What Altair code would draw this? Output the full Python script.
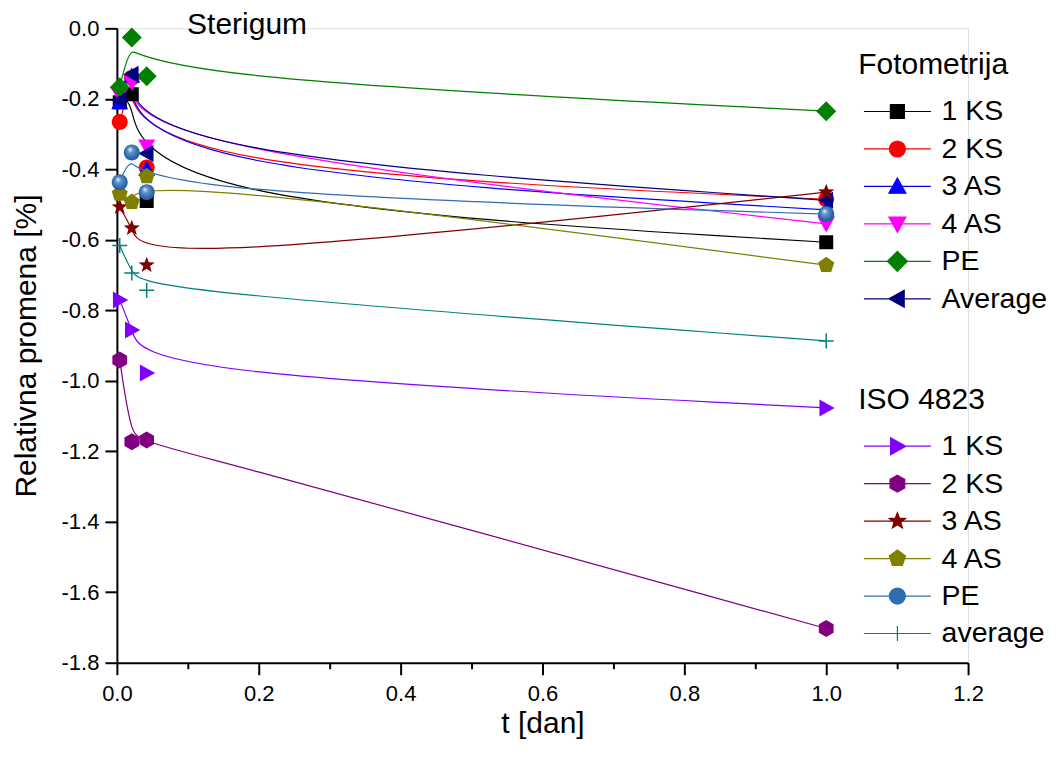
import altair as alt
import pandas as pd
import math

# ---------------- data ----------------
t_days = [0.004, 0.021, 0.042, 1.0]

foto_names = ["1 KS", "2 KS", "3 AS", "4 AS", "PE", "Average"]
foto_1ks = [-0.21, -0.187, -0.49, -0.607]
foto_2ks = [-0.266, -0.14, -0.395, -0.485]
foto_3as = [-0.21, -0.135, -0.40, -0.515]
foto_4as = [-0.19, -0.153, -0.335, -0.555]
foto_pe = [-0.167, -0.026, -0.136, -0.235]
foto_avg = [-0.204, -0.13, -0.355, -0.488]

iso_names = ["1 KS", "2 KS", "3 AS", "4 AS", "PE", "average"]
iso_1ks = [-0.771, -0.856, -0.978, -1.077]
iso_2ks = [-0.941, -1.173, -1.168, -1.703]
iso_3as = [-0.507, -0.567, -0.672, -0.465]
iso_4as = [-0.47, -0.493, -0.42, -0.672]
iso_pe = [-0.437, -0.352, -0.465, -0.527]
iso_avg = [-0.616, -0.694, -0.743, -0.887]

x_tick_values = [round(i * 0.1, 1) for i in range(0, 13)]
y_tick_values = [round(-i * 0.1, 1) for i in range(0, 19)]

# ---------------- styles ----------------
FONT = "Liberation Sans"
foto_colors = ["#000000", "#FF0000", "#0000FF", "#FF00FF", "#008000", "#000080"]
iso_colors = ["#8000FF", "#800080", "#800000", "#808000", "#2F6DB0", "#008080"]
SPHERE_FILL = {
    "gradient": "radial",
    "x1": 0.38, "y1": 0.3, "r1": 0.0,
    "x2": 0.5, "y2": 0.5, "r2": 0.6,
    "stops": [
        {"offset": 0.0, "color": "#F4F8FF"},
        {"offset": 0.3, "color": "#5D93D0"},
        {"offset": 0.75, "color": "#2A63A6"},
        {"offset": 1.0, "color": "#1C4A80"},
    ],
}


def poly(pts, k=1.0):
    return "M" + "L".join(f"{x * k:.3f},{y * k:.3f}" for x, y in pts) + "Z"


def circle(k=1.0):
    return f"M{-k:.3f},0A{k:.3f},{k:.3f} 0 1,0 {k:.3f},0A{k:.3f},{k:.3f} 0 1,0 {-k:.3f},0Z"


def star_pts():
    pts = []
    for i in range(10):
        r = 1.0 if i % 2 == 0 else 0.42
        a = -math.pi / 2 + i * math.pi / 5
        pts.append((r * math.cos(a), r * math.sin(a)))
    return pts


def ngon(n, start):
    return [(math.cos(start + 2 * math.pi * i / n), math.sin(start + 2 * math.pi * i / n)) for i in range(n)]


SHAPES = {
    "square": lambda k: poly([(-1, -1), (1, -1), (1, 1), (-1, 1)], k),
    "circle": lambda k: circle(k),
    "sphere": lambda k: circle(k),
    "tri_up": lambda k: poly([(0, -1), (1, 0.8), (-1, 0.8)], k),
    "tri_down": lambda k: poly([(0, 1), (1, -0.8), (-1, -0.8)], k),
    "diamond": lambda k: poly([(0, -1), (1, 0), (0, 1), (-1, 0)], k),
    "tri_left": lambda k: poly([(-1, 0), (0.8, -1), (0.8, 1)], k),
    "tri_right": lambda k: poly([(1, 0), (-0.8, -1), (-0.8, 1)], k),
    "hexagon": lambda k: poly(ngon(6, -math.pi / 2), k),
    "star": lambda k: poly(star_pts(), k),
    "pentagon": lambda k: poly(ngon(5, -math.pi / 2), k),
    "plus": lambda k: f"M{-k:.3f},0H{k:.3f}M0,{-k:.3f}V{k:.3f}",
}

foto_shapes = ["square", "circle", "tri_up", "tri_down", "diamond", "tri_left"]
foto_px = [14, 16, 17, 17, 20, 17]
iso_shapes = ["tri_right", "hexagon", "star", "pentagon", "sphere", "plus"]
iso_px = [17, 17, 17, 17, 16, 15]

LEG_BOX = 20  # legend symbol box (px)
LEG_HALF_LINE = 33.5 / (LEG_BOX / 2)


def legend_path(shape, px):
    k = (px / 2) / (LEG_BOX / 2)
    return f"M{-LEG_HALF_LINE:.3f},0H{LEG_HALF_LINE:.3f}" + SHAPES[shape](k)


label_expr = "abs(round(datum.value*10)) % 2 == 0 ? ((datum.value < -0.001 ? '-' : '') + format(abs(datum.value), '.1f')) : ''"
tick_cond = {"condition": {"test": "abs(round(datum.value*10)) % 2 == 0", "value": 12}, "value": 6}

x_enc = alt.X(
    "t:Q",
    scale=alt.Scale(domain=[0, 1.2], nice=False, zero=False),
    axis=alt.Axis(
        values=x_tick_values, labelExpr=label_expr, tickSize=tick_cond,
        title="t [dan]", titleFontSize=30, titleFont=FONT, titleFontWeight="normal",
        titlePadding=4, labelFontSize=22, labelFont=FONT, labelPadding=9,
        labelColor="black", titleColor="black", domainColor="black", tickColor="black",
        domainWidth=2, tickWidth=2, grid=False, labelFlush=False,
    ),
)
y_enc = alt.Y(
    "v:Q",
    scale=alt.Scale(domain=[-1.8, 0.0], nice=False, zero=False),
    axis=alt.Axis(
        values=y_tick_values, labelExpr=label_expr, tickSize=tick_cond,
        title="Relativna promena [%]", titleFontSize=30, titleFont=FONT, titleFontWeight="normal",
        titlePadding=20, labelFontSize=22, labelFont=FONT, labelPadding=6,
        labelColor="black", titleColor="black", domainColor="black", tickColor="black",
        domainWidth=2, tickWidth=2, grid=False, labelFlush=False,
    ),
)


def group(names, series, colors, shapes, pxs, title, legend_y):
    frames = []
    layers_lines = []
    layers_pts = []
    for name, vals, col, shp, px in zip(names, series, colors, shapes, pxs):
        df = pd.DataFrame({"t": t_days, "v": vals, "s": name})
        frames.append(df)
        layers_lines.append(
            alt.Chart(df).mark_line(interpolate="basis", color=col, strokeWidth=1.2).encode(x=x_enc, y=y_enc)
        )
        if shp == "plus":
            pm = alt.Chart(df).mark_point(shape=SHAPES[shp](1), size=px * px, filled=False,
                                          color=col, strokeWidth=1.5, opacity=1)
        elif shp == "sphere":
            pm = alt.Chart(df).mark_point(shape=SHAPES[shp](1), size=px * px, filled=True,
                                          fill=SPHERE_FILL, opacity=1, strokeWidth=0)
        else:
            pm = alt.Chart(df).mark_point(shape=SHAPES[shp](1), size=px * px, filled=True,
                                          color=col, opacity=1, strokeWidth=0)
        layers_pts.append(pm.encode(x=x_enc, y=y_enc))
    all_df = pd.concat(frames, ignore_index=True)
    leg = alt.Legend(
        title=title, orient="none", legendX=742, legendY=legend_y,
        titleFontSize=30, titleFont=FONT, titleFontWeight="normal", titleColor="black",
        titlePadding=17, titleAnchor="start",
        labelFontSize=28.5, labelFont=FONT, labelColor="black",
        symbolSize=LEG_BOX * LEG_BOX, symbolStrokeWidth=1.2, symbolOffset=25,
        symbolFillColor="black", symbolStrokeColor="black", symbolOpacity=1,
        labelOffset=30, rowPadding=8.5, padding=0, symbolLimit=0,
    )
    legend_layer = alt.Chart(all_df).mark_point(filled=True, opacity=0, size=LEG_BOX * LEG_BOX,
                                                strokeWidth=1.2).encode(
        x=x_enc, y=y_enc,
        fill=alt.Fill("s:N", scale=alt.Scale(domain=names, range=colors), legend=leg),
        stroke=alt.Stroke("s:N", scale=alt.Scale(domain=names, range=colors), legend=leg),
        shape=alt.Shape("s:N", scale=alt.Scale(domain=names,
                                               range=[legend_path(s, p) for s, p in zip(shapes, pxs)]),
                        legend=leg),
    )
    return alt.layer(*layers_lines, *layers_pts, legend_layer)


foto = group(foto_names, [foto_1ks, foto_2ks, foto_3as, foto_4as, foto_pe, foto_avg],
             foto_colors, foto_shapes, foto_px, "Fotometrija", 22)
iso = group(iso_names, [iso_1ks, iso_2ks, iso_3as, iso_4as, iso_pe, iso_avg],
            iso_colors, iso_shapes, iso_px, "ISO 4823", 357)

title_df = pd.DataFrame({"label": ["Sterigum"]})
title_layer = alt.Chart(title_df).mark_text(
    align="left", baseline="middle", fontSize=30, font=FONT, color="black", dy=-3
).encode(x=alt.datum(0.099), y=alt.datum(0.0), text="label:N")

chart = alt.layer(foto, iso, title_layer).resolve_scale(
    fill="independent", stroke="independent", shape="independent"
).properties(
    width=852, height=635,
    padding={"left": 3, "top": 2, "right": 0, "bottom": 2},
).configure_view(stroke=None).configure(background="white")

chart.save("out.html", embed_options={"renderer": "svg", "actions": False})
